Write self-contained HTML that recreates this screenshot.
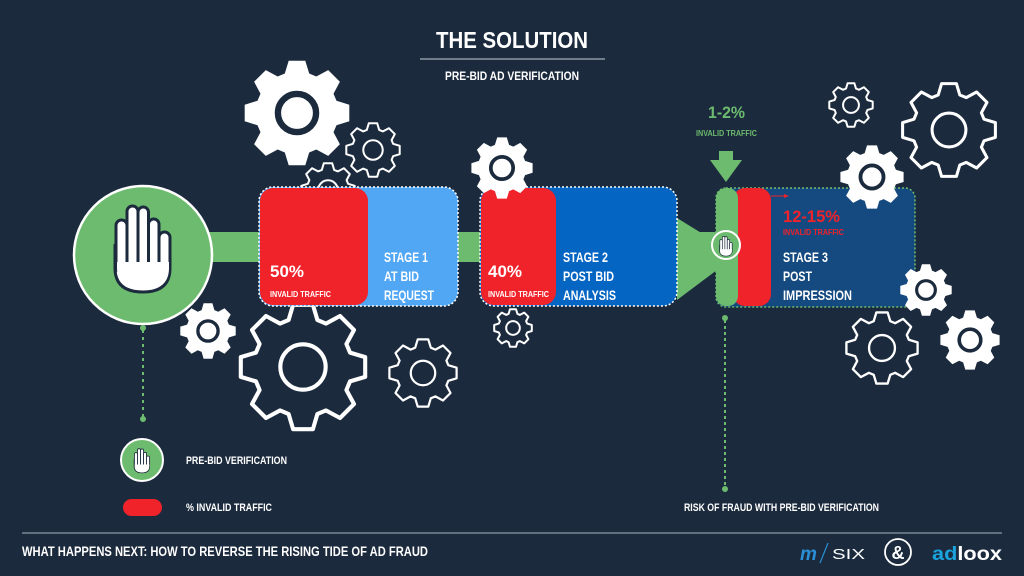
<!DOCTYPE html>
<html><head><meta charset="utf-8"><style>
html,body{margin:0;padding:0;background:#1b2a3d;}
svg{display:block}
text{font-family:"Liberation Sans Narrow","Liberation Sans",sans-serif;font-weight:bold;}
</style></head><body>
<svg id="s" width="1024" height="576" viewBox="0 0 1024 576" xmlns="http://www.w3.org/2000/svg">
<defs>
<symbol id="hand" viewBox="110 200 66 96" overflow="visible">
<g fill="#fff" stroke="#1b2a3d" stroke-width="3" stroke-linejoin="round">
<path d="M115 245 L170 240 L170 268 Q170 292 143 292 Q115 292 115 268 Z"/>
<rect x="116" y="220" width="11" height="52" rx="5.5"/>
<rect x="127" y="206" width="11" height="62" rx="5.5"/>
<rect x="138" y="207" width="10.5" height="61" rx="5.2"/>
<rect x="148.5" y="219" width="10.5" height="50" rx="5.2"/>
<rect x="159" y="232" width="11" height="40" rx="5.5"/>
<path d="M117 262 L169 262 L169 268 Q169 290 143 290 Q117 290 117 268 Z" stroke="none"/>
</g>
</symbol>
</defs>
<g id="gearsBack"></g>

<text x="436" y="48" font-size="23" fill="#fff" textLength="152" lengthAdjust="spacingAndGlyphs">THE SOLUTION</text>
<line x1="420" y1="59" x2="605" y2="59" stroke="#c8d0d8" stroke-width="1"/>
<text x="445" y="80" font-size="12" fill="#fff" textLength="134" lengthAdjust="spacingAndGlyphs">PRE-BID AD VERIFICATION</text>

<rect x="200" y="232" width="520" height="30" fill="#6dbb6e"/>
<polygon points="677,218 677,300 737,255" fill="#6dbb6e"/>

<circle cx="143" cy="255" r="69" fill="#6dbb6e" stroke="#fff" stroke-width="2.5"/>
<use href="#hand" x="110" y="200" width="66" height="96"/>
<line x1="143" y1="330" x2="143" y2="418" stroke="#6dbb6e" stroke-width="2" stroke-dasharray="3,4"/>
<circle cx="143" cy="328" r="3" fill="#6dbb6e"/>
<circle cx="143" cy="419" r="3" fill="#6dbb6e"/>

<rect x="259" y="187" width="199" height="119" rx="14" fill="#52a7f5" stroke="#fff" stroke-width="1.5" stroke-dasharray="2,2"/>
<rect x="260" y="188" width="108" height="117" rx="13" fill="#f0222a"/>
<text x="270" y="277" font-size="17" fill="#fff" textLength="34" lengthAdjust="spacingAndGlyphs">50%</text>
<text x="270" y="297" font-size="8" fill="#fff" textLength="61" lengthAdjust="spacingAndGlyphs">INVALID TRAFFIC</text>
<text x="384" y="262" font-size="14" fill="#fff" textLength="44" lengthAdjust="spacingAndGlyphs">STAGE 1</text>
<text x="384" y="281" font-size="14" fill="#fff" textLength="35" lengthAdjust="spacingAndGlyphs">AT BID</text>
<text x="384" y="300" font-size="14" fill="#fff" textLength="50" lengthAdjust="spacingAndGlyphs">REQUEST</text>

<rect x="480" y="187" width="197" height="119" rx="14" fill="#0565c3" stroke="#fff" stroke-width="1.5" stroke-dasharray="2,2"/>
<rect x="481" y="188" width="75" height="117" rx="13" fill="#f0222a"/>
<text x="488" y="277" font-size="17" fill="#fff" textLength="34" lengthAdjust="spacingAndGlyphs">40%</text>
<text x="488" y="297" font-size="8" fill="#fff" textLength="61" lengthAdjust="spacingAndGlyphs">INVALID TRAFFIC</text>
<text x="563" y="262" font-size="14" fill="#fff" textLength="45" lengthAdjust="spacingAndGlyphs">STAGE 2</text>
<text x="563" y="281" font-size="14" fill="#fff" textLength="51" lengthAdjust="spacingAndGlyphs">POST BID</text>
<text x="563" y="300" font-size="14" fill="#fff" textLength="53" lengthAdjust="spacingAndGlyphs">ANALYSIS</text>

<rect x="716" y="188" width="199" height="119" rx="10" fill="#154a80" stroke="#6dbb6e" stroke-width="1.5" stroke-dasharray="2,2"/>
<rect x="733" y="188" width="38" height="118" rx="12" fill="#f0222a"/>
<rect x="716" y="188" width="22" height="118" rx="10" fill="#6dbb6e"/>
<line x1="771" y1="196" x2="787" y2="196" stroke="#f0222a" stroke-width="1"/>
<polygon points="789,196 784,194 784,198" fill="#f0222a"/>
<text x="783" y="222" font-size="17" fill="#f0222a" textLength="57" lengthAdjust="spacingAndGlyphs">12-15%</text>
<text x="783" y="235" font-size="8" fill="#f0222a" textLength="61" lengthAdjust="spacingAndGlyphs">INVALID TRAFFIC</text>
<text x="783" y="262" font-size="14" fill="#fff" textLength="45" lengthAdjust="spacingAndGlyphs">STAGE 3</text>
<text x="783" y="281" font-size="14" fill="#fff" textLength="29" lengthAdjust="spacingAndGlyphs">POST</text>
<text x="783" y="300" font-size="14" fill="#fff" textLength="69" lengthAdjust="spacingAndGlyphs">IMPRESSION</text>
<circle cx="726" cy="245" r="14" fill="#6dbb6e" stroke="#fff" stroke-width="2"/>
<use href="#hand" x="717" y="235" width="18" height="22"/>

<text x="708" y="118" font-size="17" fill="#6dbb6e" textLength="37" lengthAdjust="spacingAndGlyphs">1-2%</text>
<text x="696" y="136" font-size="8" fill="#6dbb6e" textLength="61" lengthAdjust="spacingAndGlyphs">INVALID TRAFFIC</text>
<polygon points="719,151 733,151 733,160 742,160 726,182 710,160 719,160" fill="#6dbb6e"/>

<line x1="725" y1="320" x2="725" y2="487" stroke="#6dbb6e" stroke-width="2" stroke-dasharray="3,3"/>
<circle cx="725" cy="318" r="3" fill="#6dbb6e"/>
<circle cx="725" cy="489" r="3" fill="#6dbb6e"/>
<text x="684" y="511" font-size="11" fill="#fff" textLength="195" lengthAdjust="spacingAndGlyphs">RISK OF FRAUD WITH PRE-BID VERIFICATION</text>

<g id="gearsFront"></g>

<circle cx="142" cy="460" r="21" fill="#6dbb6e" stroke="#fff" stroke-width="2"/>
<use href="#hand" x="132" y="447" width="20" height="27"/>
<text x="186" y="464" font-size="11" fill="#fff" textLength="101" lengthAdjust="spacingAndGlyphs">PRE-BID VERIFICATION</text>
<rect x="123" y="499" width="39" height="17" rx="8.5" fill="#f0222a"/>
<text x="186" y="511" font-size="11" fill="#fff" textLength="86" lengthAdjust="spacingAndGlyphs">% INVALID TRAFFIC</text>

<line x1="22" y1="533" x2="1002" y2="533" stroke="#aab4c0" stroke-width="1"/>
<text x="22" y="556" font-size="14" fill="#fff" textLength="406" lengthAdjust="spacingAndGlyphs">WHAT HAPPENS NEXT: HOW TO REVERSE THE RISING TIDE OF AD FRAUD</text>
<text x="800" y="560" font-size="19" fill="#2a8fd6" font-style="italic" font-family="Liberation Serif,serif">m</text>
<line x1="820" y1="563" x2="828" y2="543" stroke="#2a8fd6" stroke-width="1.2"/>
<text x="832" y="559" font-size="15" fill="#fff" style="font-weight:normal;font-family:'Liberation Sans',sans-serif" textLength="33" lengthAdjust="spacingAndGlyphs">SIX</text>
<circle cx="898" cy="552" r="13" fill="none" stroke="#fff" stroke-width="1.8"/>
<text x="898" y="559" font-size="18" fill="#fff" text-anchor="middle" font-family="Liberation Serif,serif">&amp;</text>
<text x="932" y="560" font-size="19" fill="#1aa3dd" style="font-family:'Liberation Sans',sans-serif" textLength="70" lengthAdjust="spacingAndGlyphs">ad<tspan fill="#fff">loox</tspan></text>
</svg>
<script>
function gearPath(cx,cy,R,n){
  var r=R*0.78,p="",t=n||8,step=2*Math.PI/t;
  for(var i=0;i<t;i++){
    var a=i*step;
    var pts=[[r,a-step*0.5+step*0.12],[R,a-step*0.2],[R,a+step*0.2],[r,a+step*0.5-step*0.12]];
    pts.forEach(function(q,j){
      var x=cx+q[0]*Math.cos(q[1]),y=cy+q[0]*Math.sin(q[1]);
      p+=(i==0&&j==0?"M":"L")+x.toFixed(1)+" "+y.toFixed(1)+" ";
    });
  }
  return p+"Z";
}
var NS="http://www.w3.org/2000/svg";
function add(g,type,cx,cy,R){
  var el=document.getElementById(g);
  var p=document.createElementNS(NS,"path");
  p.setAttribute("d",gearPath(cx,cy,R,8));
  p.setAttribute("stroke-linejoin","round");
  var c=document.createElementNS(NS,"circle");
  c.setAttribute("cx",cx);c.setAttribute("cy",cy);c.setAttribute("r",R*0.36);
  if(type=="s"){
    p.setAttribute("fill","#fff");el.appendChild(p);
    c.setAttribute("fill","#fff");c.setAttribute("stroke","#1b2a3d");c.setAttribute("stroke-width",R*0.12);
  }else{
    var w=Math.max(2,R*0.065);
    p.setAttribute("fill","#1b2a3d");p.setAttribute("stroke","#fff");p.setAttribute("stroke-width",w);
    el.appendChild(p);
    c.setAttribute("fill","none");c.setAttribute("stroke","#fff");c.setAttribute("stroke-width",w);
  }
  el.appendChild(c);
}
add("gearsBack","s",297,113,53);
add("gearsBack","o",373,150,27);
add("gearsBack","o",328,190,27);
add("gearsBack","s",208,331,28);
add("gearsBack","o",303,367,63);
add("gearsBack","o",423,373,34);
add("gearsBack","o",513,328,19);
add("gearsBack","o",851,105,22);
add("gearsBack","o",949,130,47);
add("gearsBack","o",882,348,36);
add("gearsBack","s",970,340,30);
add("gearsFront","s",502,168,31);
add("gearsFront","s",872,177,32);
add("gearsFront","s",926,290,26);
</script>
</body></html>
